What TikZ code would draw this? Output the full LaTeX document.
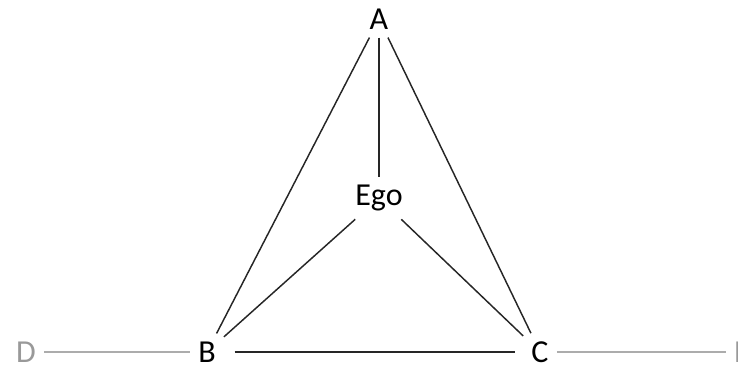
\documentclass[tikz,border=0pt]{standalone}
\usepackage{fontspec}
\setmainfont{Carlito}
\usetikzlibrary{positioning}

\begin{document}
\begin{tikzpicture}[x=0.75pt, y=-0.75pt,
    actor/.style={font=\fontsize{24}{28}\selectfont, inner sep=6pt},
    far/.style={actor, text=gray!80},
    tie/.style={line width=1.1pt, black!85},
    weak/.style={line width=1.1pt, gray!65}]
  \clip (0,0) rectangle (738,366);
  \useasboundingbox (0,0) rectangle (738,366);

  % Triad around ego
  \node[actor] (A) at (379,19) {A};
  \node[actor] (ego) at (379,198) {Ego};
  \node[actor] (B) at (207,352) {B};
  \node[actor] (C) at (540,352) {C};

  % Outside contacts
  \node[far] (D) at (26,352) {D};
  \node[far] (E) at (742,352) {E};

  \draw[tie] (A) -- (ego);
  \draw[tie] (A) -- (B);
  \draw[tie] (A) -- (C);
  \draw[tie] (ego) -- (B);
  \draw[tie] (ego) -- (C);
  \draw[tie, shorten <=8pt, shorten >=6pt] (B) -- (C);

  \draw[weak] (D) -- (B);
  \draw[weak] (C) -- (E);
\end{tikzpicture}
\end{document}
